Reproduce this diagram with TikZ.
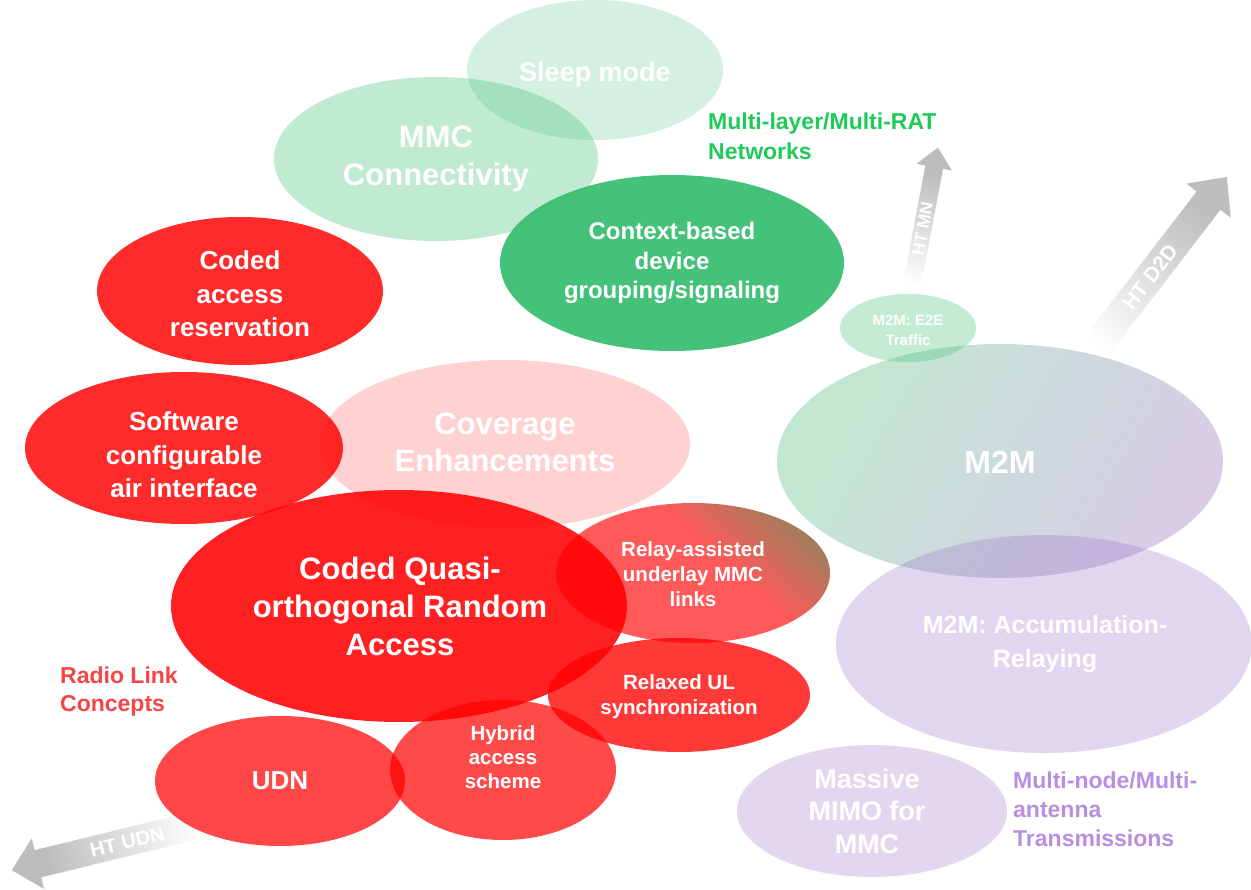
\documentclass[tikz,border=0pt]{standalone}
\usepackage{fontspec}
\setmainfont{Liberation Sans}
\usetikzlibrary{shapes.geometric}
\definecolor{gbase}{HTML}{3CBF72}
\definecolor{rbase}{HTML}{FF0000}
\definecolor{pbase}{HTML}{9A72C8}
\definecolor{m2mA}{HTML}{C3E6D3}
\definecolor{m2mB}{HTML}{D8CCE7}
\definecolor{relO}{HTML}{4E470A}
\definecolor{arrgray}{HTML}{BDBDBD}
\definecolor{lblgreen}{HTML}{1FCB57}
\definecolor{lblred}{HTML}{F54545}
\definecolor{lblpurple}{HTML}{B98EE0}
\pgfdeclarehorizontalshading{relayshade}{100bp}{color(0bp)=(rbase); color(57bp)=(rbase); color(80bp)=(relO); color(100bp)=(relO)}
\pgfdeclarehorizontalshading{mtmshade}{100bp}{color(0bp)=(m2mA); color(30bp)=(m2mA); color(75bp)=(m2mB); color(100bp)=(m2mB)}
\pgfdeclarehorizontalshading{arrowshade}{100bp}{color(0bp)=(white); color(27bp)=(white); color(66bp)=(arrgray); color(100bp)=(arrgray)}
\newcommand\myfs[2]{\fontsize{#1}{#2}\selectfont\bfseries}
\begin{document}
\begin{tikzpicture}[x=1pt,y=-1pt,
  ell/.style={ellipse, inner sep=0pt, draw=none},
  green/.style={ell, fill=gbase, fill opacity=#1},
  red/.style={ell, fill=rbase, fill opacity=#1},
  purple/.style={ell, fill=pbase, fill opacity=#1},
  txt/.style={text=white, align=center, inner sep=0pt},
  arrtxt/.style={text=white, inner sep=0pt, font=\myfs{#1}{#1}},
  lbl/.style={anchor=west, align=left, inner sep=0pt}]
\useasboundingbox (0,0) rectangle (1251,890);
\fill[white] (0,0) rectangle (1251,890);

% arrows
\begin{scope}[transform canvas={shift={(911,290)}, rotate=79.3}]
  \shade[shading=arrowshade] (0,-9) -- (125,-9) -- (125,-18) -- (145,0) -- (125,18) -- (125,9) -- (0,9) -- cycle;
  \node[arrtxt=17] (aMN) at (62,0) {HT MN};
\end{scope}
\begin{scope}[transform canvas={shift={(1092,352)}, rotate=52.4}]
  \shade[shading=arrowshade] (0,-15) -- (191,-15) -- (191,-28) -- (221,0) -- (191,28) -- (191,15) -- (0,15) -- cycle;
  \node[arrtxt=21] (aD2D) at (95,0) {HT D2D};
\end{scope}
\begin{scope}[transform canvas={shift={(205,823)}, rotate=193.7}]
  \shade[shading=arrowshade] (0,-14) -- (172,-14) -- (172,-26) -- (199,0) -- (172,26) -- (172,14) -- (0,14) -- cycle;
  \node[arrtxt=20, rotate=180] (aUDN) at (80,0) {HT UDN};
\end{scope}

% green group
\node[green=0.22, minimum width=256pt, minimum height=140pt] (sleep) at (595,70) {};
\node[green=0.32, minimum width=324pt, minimum height=164pt] (mmc) at (436,159) {};
\node[green=0.95, minimum width=344pt, minimum height=176pt] (ctx) at (672,263) {};

% purple / M2M group
\node[ell, shade, shading=mtmshade, shading angle=-30, minimum width=446pt, minimum height=234pt] (m2m) at (1000,461) {};
\node[green=0.3, minimum width=136pt, minimum height=68pt] (e2e) at (908,328) {};
\node[purple=0.29, minimum width=416pt, minimum height=218pt] (accum) at (1044,644) {};
\node[purple=0.28, minimum width=270pt, minimum height=132pt] (mimo) at (872,811) {};

% red group
\node[red=0.83, minimum width=286pt, minimum height=148pt] (car) at (240,291) {};
\node[red=0.83, minimum width=318pt, minimum height=152pt] (sci) at (184,448) {};
\node[red=0.18, minimum width=370pt, minimum height=168pt] (cov) at (505,444) {};
\node[red=0.87, minimum width=456pt, minimum height=232pt] (cqra) at (399,606) {};
\node[ell, shade, shading=relayshade, shading angle=48, fill opacity=0.65, minimum width=274pt, minimum height=140pt] (relay) at (693,573) {};
\node[red=0.78, minimum width=262pt, minimum height=114pt] (relaxed) at (679,695) {};
\node[red=0.72, minimum width=250pt, minimum height=130pt] (udn) at (280,781) {};
\node[red=0.71, minimum width=226pt, minimum height=140pt] (hybrid) at (503,770) {};

% texts
\node[txt, font=\myfs{27}{32}] (tSleep) at (595,75) {Sleep mode};
\node[txt, font=\myfs{31}{38}] (tMMC) at (436,159) {MMC\\Connectivity};
\node[txt, font=\myfs{24}{29.5}] (tCtx) at (672,263) {Context-based\\device\\grouping/signaling};
\node[txt, font=\myfs{26}{33.5}] (tCar) at (240,294) {Coded\\access\\reservation};
\node[txt, font=\myfs{26}{33.5}] (tSci) at (184,455) {Software\\configurable\\air interface};
\node[txt, font=\myfs{31}{37}] (tCov) at (505,442) {Coverage\\Enhancements};
\node[txt, font=\myfs{31}{38}] (tCqra) at (400,606) {Coded Quasi-\\orthogonal Random\\Access};
\node[txt, font=\myfs{20.5}{25}] (tRelay) at (693,574) {Relay-assisted\\underlay MMC\\links};
\node[txt, font=\myfs{20.5}{25}] (tRelaxed) at (679,697) {Relaxed UL\\synchronization};
\node[txt, font=\myfs{20.5}{24}] (tHybrid) at (503,757) {Hybrid\\access\\scheme};
\node[txt, font=\myfs{26}{31}] (tUDN) at (280,781) {UDN};
\node[txt, font=\myfs{32}{38}] (tM2M) at (1000,462) {M2M};
\node[txt, font=\myfs{15}{20}] (tE2E) at (908,330) {M2M: E2E\\Traffic};
\node[txt, font=\myfs{25}{34}] (tAccum) at (1045,644) {M2M: Accumulation-\\Relaying};
\node[txt, font=\myfs{27}{32.5}] (tMimo) at (867,811) {Massive\\MIMO for\\MMC};

% group labels
\node[lbl, text=lblgreen, font=\myfs{23}{30}] (lGreen) at (708,136) {Multi-layer/Multi-RAT\\Networks};
\node[lbl, text=lblred, font=\myfs{23}{28}] (lRed) at (60,692) {Radio Link\\Concepts};
\node[lbl, text=lblpurple, font=\myfs{23}{29}] (lPurple) at (1013,809) {Multi-node/Multi-\\antenna\\Transmissions};
\end{tikzpicture}
\end{document}
